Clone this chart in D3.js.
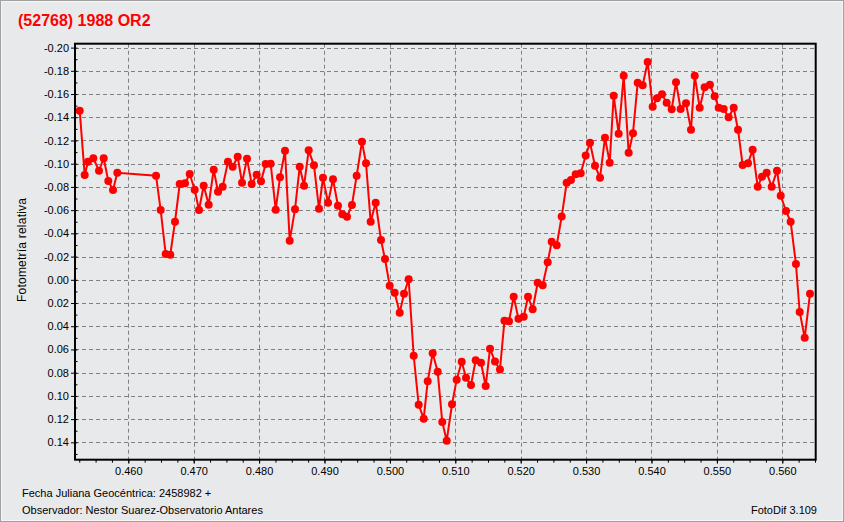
<!DOCTYPE html>
<html><head><meta charset="utf-8">
<script src="https://cdn.jsdelivr.net/npm/d3@7"></script>
<style>
body{margin:0;background:#e8e9eb;}
svg{display:block;font-family:"Liberation Sans",Arial,sans-serif;}
</style>
</head><body>
<svg id="chart" width="844" height="522"></svg>
<script>
const chartTitle = "(52768) 1988 OR2";
const yAxisTitle = "Fotometría relativa";
const footerLine1 = "Fecha Juliana Geocéntrica: 2458982 +";
const footerLine2 = "Observador: Nestor Suarez-Observatorio Antares";
const footerRight = "FotoDif 3.109";

// Julian date fraction (JD - 2458982)
const jd = [
0.45257,0.45333,0.45384,0.45465,0.45552,0.45624,0.45694,0.45766,0.45832,0.46424,
0.46495,0.46572,0.46642,0.46714,0.46786,0.46867,0.46939,0.47015,0.47081,0.47153,
0.47229,0.47306,0.47372,0.47443,0.47524,0.47596,0.47673,0.47739,0.47815,0.47887,
0.47963,0.48029,0.48101,0.48177,0.48254,0.48320,0.48396,0.48468,0.48549,0.48621,
0.48687,0.48758,0.48839,0.48916,0.48977,0.49054,0.49130,0.49206,0.49272,0.49344,
0.49420,0.49492,0.49573,0.49635,0.49706,0.49783,0.49864,0.49925,0.49997,0.50073,
0.50150,0.50216,0.50287,0.50364,0.50440,0.50517,0.50578,0.50654,0.50731,0.50801,
0.50869,0.50950,0.51021,0.51098,0.51164,0.51240,0.51312,0.51393,0.51465,0.51531,
0.51607,0.51683,0.51752,0.51821,0.51893,0.51966,0.52046,0.52112,0.52183,0.52260,
0.52336,0.52413,0.52474,0.52550,0.52627,0.52703,0.52769,0.52841,0.52917,0.52994,
0.53060,0.53136,0.53213,0.53289,0.53361,0.53422,0.53498,0.53575,0.53651,0.53717,
0.53789,0.53865,0.53942,0.54018,0.54084,0.54161,0.54232,0.54309,0.54375,0.54446,
0.54528,0.54604,0.54661,0.54737,0.54813,0.54894,0.54966,0.55028,0.55104,0.55180,
0.55257,0.55323,0.55394,0.55476,0.55547,0.55624,0.55690,0.55761,0.55838,0.55919,
0.55976,0.56057,0.56128,0.56209,0.56266,0.56343,0.56424
];
// relative photometry (magnitude difference)
const mag = [
-0.1457,-0.0903,-0.1017,-0.1047,-0.0940,-0.1047,-0.0851,-0.0773,-0.0922,-0.0897,
-0.0601,-0.0222,-0.0216,-0.0500,-0.0825,-0.0831,-0.0911,-0.0776,-0.0601,-0.0810,
-0.0647,-0.0948,-0.0759,-0.0802,-0.1017,-0.0974,-0.1060,-0.0836,-0.1043,-0.0825,
-0.0905,-0.0848,-0.0997,-0.1000,-0.0604,-0.0883,-0.1112,-0.0337,-0.0607,-0.0974,
-0.0810,-0.1115,-0.0986,-0.0612,-0.0879,-0.0664,-0.0866,-0.0638,-0.0564,-0.0543,
-0.0644,-0.0897,-0.1189,-0.1003,-0.0500,-0.0664,-0.0343,-0.0179,0.0051,0.0111,
0.0283,0.0120,-0.0004,0.0654,0.1076,0.1196,0.0874,0.0633,0.0792,0.1225,
0.1386,0.1072,0.0860,0.0705,0.0843,0.0906,0.0693,0.0714,0.0915,0.0593,
0.0704,0.0773,0.0352,0.0357,0.0146,0.0335,0.0318,0.0146,0.0254,0.0025,
0.0047,-0.0151,-0.0328,-0.0297,-0.0545,-0.0836,-0.0860,-0.0909,-0.0917,-0.1071,
-0.1180,-0.0983,-0.0879,-0.1224,-0.1009,-0.1586,-0.1258,-0.1758,-0.1095,-0.1262,
-0.1698,-0.1675,-0.1876,-0.1491,-0.1563,-0.1598,-0.1525,-0.1469,-0.1701,-0.1471,
-0.1520,-0.1293,-0.1758,-0.1482,-0.1658,-0.1680,-0.1581,-0.1482,-0.1471,-0.1400,
-0.1482,-0.1293,-0.0989,-0.1003,-0.1121,-0.0802,-0.0888,-0.0922,-0.0802,-0.0940,
-0.0724,-0.0593,-0.0500,-0.0136,0.0277,0.0499,0.0120
];
const xTicks = [0.46,0.47,0.48,0.49,0.50,0.51,0.52,0.53,0.54,0.55,0.56];
const xMinorTicks = d3.range(0,46).map(i => +(0.4525 + i*0.0025).toFixed(4));
const yTicks = [-0.20,-0.18,-0.16,-0.14,-0.12,-0.10,-0.08,-0.06,-0.04,-0.02,0.00,0.02,0.04,0.06,0.08,0.10,0.12,0.14];
const yMinorTicks = d3.range(-20,16).map(i => +(i*0.01).toFixed(2));
const xDomain = [0.45185, 0.56511];
const yDomain = [-0.20336, 0.15495];

const svg = d3.select("#chart");
const W = 844, H = 522;
const L = 75, R = 815.7, T = 43.7, B = 459.7;

const loc = d3.formatLocale({decimal:".", thousands:",", grouping:[3], currency:["",""], minus:"-"});
const fy = loc.format(".2f");
const fx = loc.format(".3f");

// background + frame
svg.append("rect").attr("x",0).attr("y",0).attr("width",W).attr("height",H).attr("fill","#e8e9eb");
svg.append("rect").attr("x",0.5).attr("y",0.5).attr("width",W-1).attr("height",H-1)
  .attr("fill","none").attr("stroke","#a0a0a0");
svg.append("rect").attr("x",1.5).attr("y",1.5).attr("width",W-3).attr("height",H-3)
  .attr("fill","none").attr("stroke","#f6f6f6");

const x = d3.scaleLinear().domain(xDomain).range([L, R]);
const y = d3.scaleLinear().domain(yDomain).range([T, B]);

// grid
const grid = svg.append("g").attr("stroke","#808080").attr("stroke-width",1).attr("stroke-dasharray","4,3");
grid.selectAll("line.v").data(xTicks).join("line")
  .attr("x1",d=>Math.round(x(d))+0.5).attr("x2",d=>Math.round(x(d))+0.5)
  .attr("y1",T).attr("y2",B);
grid.selectAll("line.h").data(yTicks).join("line")
  .attr("y1",d=>Math.round(y(d))+0.5).attr("y2",d=>Math.round(y(d))+0.5)
  .attr("x1",L).attr("x2",R);

// minor ticks
svg.append("g").attr("transform",`translate(0,${B})`)
  .call(d3.axisBottom(x).tickValues(xMinorTicks).tickSize(3).tickFormat(""))
  .call(g=>g.select(".domain").remove())
  .selectAll("line").attr("stroke","#000");
svg.append("g").attr("transform",`translate(${L},0)`)
  .call(d3.axisRight(y).tickValues(yMinorTicks).tickSize(2.5).tickFormat(""))
  .call(g=>g.select(".domain").remove())
  .selectAll("line").attr("stroke","#000");

// major axes
const xa = svg.append("g").attr("transform",`translate(0,${B})`)
  .call(d3.axisBottom(x).tickValues(xTicks).tickSize(4).tickPadding(4).tickFormat(fx));
xa.select(".domain").remove();
xa.selectAll("text").attr("font-size","11px").attr("font-family","'Liberation Sans',Arial,sans-serif").attr("fill","#000");
xa.selectAll("line").attr("stroke","#000");

const ya = svg.append("g").attr("transform",`translate(${L},0)`)
  .call(d3.axisLeft(y).tickValues(yTicks).tickSize(4).tickPadding(2).tickFormat(fy));
ya.select(".domain").remove();
ya.selectAll("text").attr("font-size","11px").attr("font-family","'Liberation Sans',Arial,sans-serif").attr("fill","#000");
ya.selectAll("line").attr("stroke","#000");

// data line + markers
const pts = jd.map((d,i)=>({t:d, v:mag[i]}));
svg.append("path").datum(pts)
  .attr("fill","none").attr("stroke","#ff0000").attr("stroke-width",2)
  .attr("d", d3.line().x(d=>x(d.t)).y(d=>y(d.v)));
svg.append("g").selectAll("circle").data(pts).join("circle")
  .attr("cx",d=>x(d.t)).attr("cy",d=>y(d.v)).attr("r",4).attr("fill","#ff0000");

// plot box
svg.append("rect").attr("x",L).attr("y",T).attr("width",R-L).attr("height",B-T)
  .attr("fill","none").attr("stroke","#000").attr("stroke-width",2);

// texts
svg.append("text").attr("x",18).attr("y",25.5).attr("fill","#ff0000")
  .attr("font-size","16px").attr("font-weight","bold").text(chartTitle);
svg.append("text").attr("transform","translate(26,250) rotate(-90)")
  .attr("text-anchor","middle").attr("font-size","12px").attr("fill","#000")
  .attr("textLength",104).attr("lengthAdjust","spacing").text(yAxisTitle);
svg.append("text").attr("x",22).attr("y",497).attr("font-size","11px").attr("fill","#000").text(footerLine1);
svg.append("text").attr("x",22).attr("y",514).attr("font-size","11px").attr("fill","#000").text(footerLine2);
svg.append("text").attr("x",817).attr("y",514).attr("text-anchor","end").attr("font-size","11px").attr("fill","#000").text(footerRight);
</script>
</body></html>
